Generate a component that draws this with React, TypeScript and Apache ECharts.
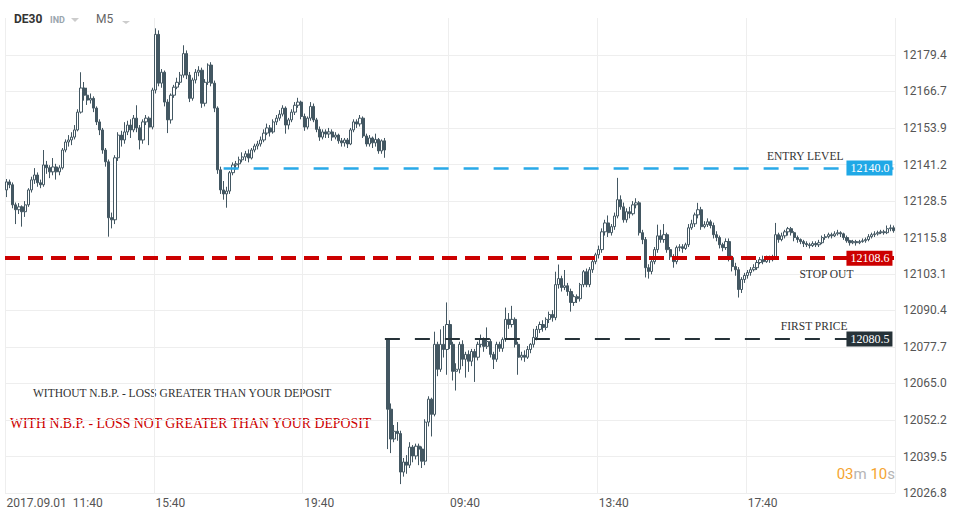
import React, { useEffect, useRef } from "react";
import * as echarts from "echarts";

// ---- data ----
// candles: [open, close, low, high]
const day1Date = "2017.09.01";
const day1Start = "11:40";
const day1Candles: number[][] = [
  [12132.4, 12135.2, 12129.9, 12136.2], [12135.2, 12134.2, 12133.0, 12136.0], [12134.2, 12127.2, 12126.0, 12135.0],
  [12127.2, 12125.5, 12120.5, 12128.0], [12125.5, 12126.5, 12124.0, 12127.8], [12126.5, 12124.8, 12119.6, 12127.0],
  [12124.8, 12127.2, 12123.0, 12128.5], [12127.2, 12132.4, 12126.5, 12133.0], [12132.4, 12135.9, 12131.5, 12137.0],
  [12135.9, 12137.6, 12134.5, 12140.0], [12137.6, 12134.9, 12133.5, 12138.5], [12134.9, 12134.2, 12133.0, 12136.0],
  [12134.2, 12141.1, 12133.5, 12146.3], [12141.1, 12140.1, 12138.0, 12142.5], [12140.1, 12138.7, 12136.5, 12141.0],
  [12138.7, 12140.4, 12137.5, 12143.5], [12140.4, 12138.7, 12136.0, 12141.5], [12138.7, 12140.1, 12137.5, 12141.0],
  [12140.1, 12146.3, 12139.5, 12147.0], [12146.3, 12149.1, 12145.5, 12150.0], [12149.1, 12149.8, 12147.5, 12151.5],
  [12149.8, 12150.8, 12148.0, 12152.5], [12150.8, 12153.3, 12150.0, 12155.0], [12153.3, 12159.5, 12152.8, 12160.5],
  [12159.5, 12167.9, 12159.0, 12173.4], [12167.9, 12165.4, 12163.5, 12170.0], [12165.4, 12163.7, 12162.0, 12168.0],
  [12163.7, 12164.3, 12162.5, 12166.0], [12164.3, 12160.9, 12159.5, 12165.0], [12160.9, 12156.1, 12155.0, 12161.5],
  [12156.1, 12153.3, 12151.5, 12157.0], [12153.3, 12146.3, 12145.0, 12154.0], [12146.3, 12142.2, 12140.5, 12147.0],
  [12142.2, 12122.7, 12116.1, 12143.0], [12122.7, 12122.0, 12119.0, 12124.5], [12122.0, 12143.6, 12120.5, 12144.5],
  [12143.6, 12151.5, 12142.5, 12152.5], [12151.5, 12149.8, 12147.5, 12153.0], [12149.8, 12152.6, 12148.5, 12156.0],
  [12152.6, 12155.0, 12151.5, 12156.5], [12155.0, 12153.3, 12150.5, 12157.0], [12153.3, 12157.4, 12152.5, 12158.5],
  [12157.4, 12154.0, 12152.5, 12161.9], [12154.0, 12149.8, 12146.5, 12155.0], [12149.8, 12156.1, 12148.5, 12157.0],
  [12156.1, 12157.4, 12155.0, 12158.5], [12157.4, 12154.3, 12148.0, 12158.0], [12154.3, 12167.2, 12153.5, 12168.0],
  [12167.2, 12186.6, 12166.0, 12188.7], [12186.6, 12169.6, 12168.5, 12188.0], [12169.6, 12173.4, 12168.0, 12174.5],
  [12173.4, 12163.0, 12161.5, 12174.0], [12163.0, 12156.8, 12152.2, 12164.0], [12156.8, 12165.4, 12155.5, 12166.0],
  [12165.4, 12168.2, 12164.5, 12169.0], [12168.2, 12169.9, 12167.5, 12171.5], [12169.9, 12172.4, 12169.0, 12173.5],
  [12172.4, 12179.9, 12171.5, 12182.8], [12179.9, 12172.4, 12171.0, 12181.0], [12172.4, 12164.3, 12163.0, 12173.5],
  [12164.3, 12170.7, 12163.5, 12171.5], [12170.7, 12173.4, 12169.5, 12174.5], [12173.4, 12174.1, 12172.0, 12175.5],
  [12174.1, 12162.6, 12161.0, 12175.0], [12162.6, 12169.9, 12161.5, 12171.0], [12169.9, 12175.9, 12169.0, 12176.5],
  [12175.9, 12169.6, 12168.5, 12176.9], [12169.6, 12160.9, 12159.5, 12170.5], [12160.9, 12139.4, 12138.0, 12161.5],
  [12139.4, 12132.4, 12131.0, 12140.5], [12132.4, 12131.0, 12129.0, 12135.5], [12131.0, 12132.0, 12126.2, 12133.5],
  [12132.0, 12138.4, 12131.0, 12139.0], [12138.4, 12141.1, 12137.5, 12142.0], [12141.1, 12141.5, 12139.5, 12142.5],
  [12141.5, 12142.9, 12140.0, 12144.0], [12142.9, 12143.9, 12142.0, 12145.5], [12143.9, 12145.0, 12142.5, 12146.0],
  [12145.0, 12143.5, 12142.0, 12146.5], [12143.5, 12146.3, 12143.0, 12147.0], [12146.3, 12147.7, 12145.5, 12148.5],
  [12147.7, 12148.4, 12146.5, 12149.5], [12148.4, 12149.8, 12147.5, 12151.0], [12149.8, 12152.2, 12149.0, 12153.5],
  [12152.2, 12154.0, 12151.5, 12155.5], [12154.0, 12152.6, 12151.0, 12155.0], [12152.6, 12156.1, 12152.0, 12157.0],
  [12156.1, 12157.4, 12155.0, 12158.5], [12157.4, 12158.8, 12156.5, 12160.2], [12158.8, 12160.9, 12158.0, 12161.9],
  [12160.9, 12155.0, 12152.0, 12161.5], [12155.0, 12156.8, 12153.5, 12157.5], [12156.8, 12159.5, 12156.0, 12160.5],
  [12159.5, 12161.9, 12158.5, 12163.0], [12161.9, 12163.0, 12161.0, 12164.5], [12163.0, 12158.0, 12157.0, 12163.5],
  [12158.0, 12154.3, 12153.0, 12159.0], [12154.3, 12157.4, 12153.5, 12158.0], [12157.4, 12161.5, 12156.5, 12163.0],
  [12161.5, 12156.8, 12156.0, 12162.5], [12156.8, 12153.5, 12152.5, 12157.5], [12153.5, 12150.8, 12149.5, 12154.5],
  [12150.8, 12152.6, 12150.0, 12153.5], [12152.6, 12151.9, 12150.5, 12153.5], [12151.9, 12152.6, 12150.5, 12154.0],
  [12152.6, 12150.8, 12149.5, 12153.5], [12150.8, 12151.5, 12150.0, 12152.5], [12151.5, 12149.5, 12148.5, 12152.0],
  [12149.5, 12148.8, 12147.5, 12150.5], [12148.8, 12149.8, 12147.5, 12150.5], [12149.8, 12148.4, 12147.0, 12150.5],
  [12148.4, 12153.3, 12148.0, 12154.0], [12153.3, 12156.1, 12152.5, 12157.0], [12156.1, 12155.4, 12154.0, 12157.0],
  [12155.4, 12157.4, 12154.5, 12158.5], [12157.4, 12151.2, 12150.5, 12158.0], [12151.2, 12148.4, 12147.5, 12152.0],
  [12148.4, 12150.5, 12147.5, 12151.5], [12150.5, 12148.8, 12147.0, 12151.0], [12148.8, 12150.0, 12147.5, 12152.0],
  [12150.0, 12146.0, 12145.0, 12150.5], [12146.0, 12149.5, 12145.0, 12150.0], [12149.5, 12146.3, 12143.6, 12150.5],
];

const day2Date = "2017.09.04";
const day2Start = "08:00";
const day2Candles: number[][] = [
  [12080.5, 12056.0, 12042.1, 12080.5], [12056.0, 12045.6, 12040.7, 12058.0], [12045.6, 12048.3, 12044.5, 12050.5],
  [12048.3, 12047.5, 12045.0, 12051.5], [12047.5, 12034.1, 12029.9, 12048.5], [12034.1, 12037.6, 12032.5, 12039.0],
  [12037.6, 12036.5, 12033.5, 12040.0], [12036.5, 12042.8, 12035.5, 12044.5], [12042.8, 12039.7, 12037.5, 12043.5],
  [12039.7, 12043.1, 12038.5, 12044.0], [12043.1, 12042.1, 12036.5, 12044.0], [12042.1, 12037.9, 12035.5, 12043.0],
  [12037.9, 12051.5, 12036.5, 12052.5], [12051.5, 12059.5, 12050.0, 12060.5], [12059.5, 12054.2, 12046.5, 12060.0],
  [12054.2, 12078.6, 12053.5, 12083.0], [12078.6, 12069.9, 12067.5, 12079.5], [12069.9, 12078.6, 12069.0, 12083.8],
  [12078.6, 12076.8, 12074.0, 12085.0], [12076.8, 12085.5, 12068.0, 12093.2], [12085.5, 12078.6, 12077.0, 12087.0],
  [12078.6, 12069.2, 12066.0, 12079.5], [12069.2, 12069.9, 12062.5, 12072.0], [12069.9, 12078.6, 12068.5, 12079.5],
  [12078.6, 12073.4, 12071.0, 12080.0], [12073.4, 12075.1, 12067.0, 12076.0], [12075.1, 12072.7, 12069.0, 12076.5],
  [12072.7, 12076.1, 12071.0, 12077.0], [12076.1, 12074.1, 12065.5, 12077.0], [12074.1, 12078.6, 12073.0, 12079.5],
  [12078.6, 12080.3, 12077.5, 12082.0], [12080.3, 12077.9, 12076.0, 12081.0], [12077.9, 12079.6, 12077.0, 12084.5],
  [12079.6, 12075.1, 12074.0, 12080.5], [12075.1, 12073.4, 12070.0, 12076.0], [12073.4, 12078.6, 12072.5, 12079.5],
  [12078.6, 12077.2, 12076.0, 12079.5], [12077.2, 12080.3, 12076.0, 12081.0], [12080.3, 12087.3, 12079.5, 12091.4],
  [12087.3, 12085.5, 12084.0, 12089.5], [12085.5, 12087.3, 12084.5, 12092.0], [12087.3, 12078.6, 12077.5, 12088.0],
  [12078.6, 12074.1, 12068.0, 12079.5], [12074.1, 12074.8, 12073.0, 12076.0], [12074.8, 12074.1, 12072.5, 12076.5],
  [12074.1, 12076.8, 12073.5, 12078.0], [12076.8, 12078.6, 12075.5, 12079.0], [12078.6, 12081.0, 12077.5, 12084.0],
  [12081.0, 12083.8, 12080.0, 12085.0], [12083.8, 12085.5, 12082.5, 12086.5], [12085.5, 12084.5, 12083.0, 12087.0],
  [12084.5, 12087.3, 12083.5, 12088.0], [12087.3, 12089.0, 12086.0, 12090.0], [12089.0, 12087.9, 12086.5, 12090.5],
  [12087.9, 12099.4, 12087.0, 12103.9], [12099.4, 12101.5, 12098.0, 12106.4], [12101.5, 12098.4, 12097.0, 12102.5],
  [12098.4, 12099.0, 12097.5, 12104.5], [12099.0, 12097.0, 12095.5, 12100.0], [12097.0, 12093.2, 12090.0, 12098.0],
  [12093.2, 12095.2, 12092.0, 12096.0], [12095.2, 12094.5, 12093.0, 12096.0], [12094.5, 12099.4, 12093.5, 12100.0],
  [12099.4, 12103.9, 12098.5, 12104.5], [12103.9, 12099.4, 12098.5, 12105.0], [12099.4, 12104.6, 12098.5, 12105.5],
  [12104.6, 12107.4, 12103.5, 12108.5], [12107.4, 12109.8, 12106.5, 12110.5], [12109.8, 12111.6, 12108.5, 12113.0],
  [12111.6, 12117.8, 12110.5, 12119.0], [12117.8, 12120.9, 12116.5, 12122.0], [12120.9, 12117.5, 12116.0, 12123.5],
  [12117.5, 12119.6, 12116.5, 12120.5], [12119.6, 12123.3, 12118.5, 12124.5], [12123.3, 12129.0, 12122.5, 12136.6],
  [12129.0, 12126.5, 12125.5, 12130.5], [12126.5, 12122.0, 12121.0, 12128.0], [12122.0, 12124.8, 12121.0, 12126.0],
  [12124.8, 12124.1, 12122.5, 12126.5], [12124.1, 12127.2, 12123.5, 12128.5], [12127.2, 12127.9, 12126.0, 12129.5],
  [12127.9, 12117.5, 12116.5, 12128.5], [12117.5, 12115.1, 12113.5, 12118.5], [12115.1, 12105.3, 12101.9, 12116.0],
  [12105.3, 12104.0, 12101.5, 12106.5], [12104.0, 12107.4, 12103.0, 12108.5], [12107.4, 12111.6, 12106.5, 12112.5],
  [12111.6, 12116.4, 12110.5, 12120.3], [12116.4, 12115.1, 12114.0, 12118.5], [12115.1, 12116.8, 12114.0, 12120.5],
  [12116.8, 12111.6, 12110.5, 12117.5], [12111.6, 12109.1, 12108.0, 12112.5], [12109.1, 12107.4, 12105.3, 12110.0],
  [12107.4, 12112.3, 12106.5, 12113.0], [12112.3, 12112.6, 12111.0, 12113.5], [12112.6, 12112.0, 12110.5, 12113.5],
  [12112.0, 12113.3, 12111.5, 12114.0], [12113.3, 12119.2, 12112.5, 12120.5], [12119.2, 12120.6, 12118.5, 12122.0],
  [12120.6, 12123.7, 12119.5, 12124.5], [12123.7, 12125.5, 12122.5, 12127.9], [12125.5, 12119.6, 12118.5, 12126.5],
  [12119.6, 12120.3, 12119.0, 12121.5], [12120.3, 12121.3, 12119.5, 12122.5], [12121.3, 12120.0, 12119.0, 12122.0],
  [12120.0, 12116.8, 12115.5, 12121.0], [12116.8, 12115.8, 12114.5, 12118.0], [12115.8, 12113.3, 12112.0, 12116.5],
  [12113.3, 12112.3, 12111.0, 12114.0], [12112.3, 12114.4, 12111.5, 12115.5], [12114.4, 12108.8, 12107.5, 12115.5],
  [12108.8, 12105.7, 12104.0, 12109.5], [12105.7, 12104.6, 12102.5, 12107.0], [12104.6, 12097.7, 12094.9, 12105.5],
  [12097.7, 12101.2, 12096.5, 12102.0], [12101.2, 12102.6, 12100.0, 12103.5], [12102.6, 12103.6, 12101.5, 12104.5],
  [12103.6, 12104.6, 12102.5, 12105.5], [12104.6, 12105.3, 12104.0, 12106.5], [12105.3, 12107.1, 12104.5, 12108.0],
  [12107.1, 12108.1, 12106.5, 12109.0], [12108.1, 12107.4, 12106.5, 12109.5], [12107.4, 12108.5, 12107.0, 12109.5],
  [12108.5, 12108.1, 12107.0, 12109.5], [12108.1, 12108.8, 12107.5, 12109.8], [12108.8, 12116.8, 12108.0, 12120.9],
  [12116.8, 12115.1, 12114.0, 12117.5], [12115.1, 12116.4, 12114.5, 12117.5], [12116.4, 12117.8, 12115.5, 12118.5],
  [12117.8, 12118.9, 12116.5, 12119.5], [12118.9, 12117.5, 12116.5, 12119.5], [12117.5, 12115.8, 12114.5, 12118.0],
  [12115.8, 12115.1, 12114.0, 12116.5], [12115.1, 12114.4, 12113.5, 12115.5], [12114.4, 12113.7, 12112.5, 12115.0],
  [12113.7, 12113.3, 12112.5, 12114.5], [12113.3, 12113.0, 12112.0, 12114.0], [12113.0, 12113.7, 12112.5, 12114.5],
  [12113.7, 12113.3, 12112.5, 12114.5], [12113.3, 12114.0, 12112.5, 12115.0], [12114.0, 12115.8, 12113.5, 12116.5],
  [12115.8, 12116.1, 12115.0, 12117.0], [12116.1, 12116.8, 12115.5, 12117.5], [12116.8, 12116.4, 12115.5, 12117.5],
  [12116.4, 12117.1, 12116.0, 12118.0], [12117.1, 12117.5, 12116.5, 12118.5], [12117.5, 12117.1, 12116.0, 12118.0],
  [12117.1, 12115.8, 12115.0, 12117.5], [12115.8, 12114.7, 12114.0, 12116.5], [12114.7, 12114.0, 12113.0, 12115.0],
  [12114.0, 12114.4, 12113.5, 12115.0], [12114.4, 12114.0, 12113.0, 12115.0], [12114.0, 12114.4, 12113.5, 12115.0],
  [12114.4, 12114.7, 12114.0, 12115.5], [12114.7, 12115.1, 12114.0, 12115.8], [12115.1, 12116.1, 12114.5, 12117.0],
  [12116.1, 12116.8, 12115.5, 12117.5], [12116.8, 12117.1, 12116.0, 12118.0], [12117.1, 12117.5, 12116.5, 12118.2],
  [12117.5, 12117.8, 12117.0, 12118.5], [12117.8, 12117.5, 12116.8, 12118.5], [12117.5, 12118.9, 12117.0, 12120.0],
  [12118.9, 12119.2, 12118.0, 12120.3], [12119.2, 12118.2, 12117.5, 12120.0],
];

const yTickValues = [
  12026.8, 12039.5, 12052.2, 12065.0, 12077.7, 12090.4, 12103.1,
  12115.8, 12128.5, 12141.2, 12153.9, 12166.7, 12179.4,
];
const yMin = 12026.8;
const yMax = 12192.3;

const xTickCategories = [
  "2017.09.01 11:40", "2017.09.01 15:40", "2017.09.01 19:40",
  "2017.09.04 09:40", "2017.09.04 13:40", "2017.09.04 17:40",
];

const entryLevel = 12140.0;
const stopOut = 12108.6;
const firstPrice = 12080.5;
const entryStartCategory = "2017.09.01 17:30";
const firstPriceStartCategory = "2017.09.01 21:50";

// ---- helpers ----
function timeSeq(date: string, start: string, count: number): string[] {
  const [h, m] = start.split(":").map(Number);
  const out: string[] = [];
  for (let k = 0; k < count; k++) {
    const t = h * 60 + m + k * 5;
    const hh = String(Math.floor(t / 60)).padStart(2, "0");
    const mm = String(t % 60).padStart(2, "0");
    out.push(`${date} ${hh}:${mm}`);
  }
  return out;
}

const categories = [
  ...timeSeq(day1Date, day1Start, day1Candles.length),
  ...timeSeq(day2Date, day2Start, day2Candles.length),
];
const candles = [...day1Candles, ...day2Candles];
const lastIdx = categories.length - 1;

const candleColor = "#435762";
const serif = '"Liberation Serif", "DejaVu Serif", serif';

export default function App() {
  const ref = useRef<HTMLDivElement>(null);

  useEffect(() => {
    if (!ref.current) return;
    const chart = echarts.init(ref.current, undefined, { renderer: "svg" });
    const showTick = (_i: number, v: string) => xTickCategories.includes(v);
    const entryIdx = categories.indexOf(entryStartCategory);
    const fpIdx = categories.indexOf(firstPriceStartCategory);

    const boxLabel = (bg: string, text: string) => ({
      show: true,
      position: "inside",
      align: "right",
      verticalAlign: "middle",
      offset: [-1, 0],
      formatter: text,
      backgroundColor: bg,
      color: "#ffffff",
      fontFamily: serif,
      fontSize: 12,
      padding: [2, 3, 1, 4],
    });
    const noteLabel = (text: string, offset: number[]) => ({
      show: true,
      position: "inside",
      align: "right",
      verticalAlign: "middle",
      offset,
      formatter: text,
      color: "#333333",
      fontFamily: serif,
      fontSize: 11.5,
    });

    chart.setOption({
      animation: false,
      backgroundColor: "#ffffff",
      grid: { left: 5, right: 68, top: 18, bottom: 27, containLabel: false },
      xAxis: {
        type: "category",
        data: categories,
        boundaryGap: true,
        axisLine: { show: false },
        axisTick: { show: false, interval: showTick },
        axisLabel: {
          interval: showTick,
          align: "left",
          margin: 4,
          color: "#555555",
          fontFamily: "Roboto",
          fontSize: 12,
          formatter: (v: string, i: number) =>
            i === 0 ? `${v.slice(0, 10)}  ${v.slice(11)}` : v.slice(11),
        },
        splitLine: { show: true, interval: showTick, lineStyle: { color: "#eeeeee", width: 1 } },
      },
      yAxis: {
        type: "value",
        position: "right",
        min: yMin,
        max: yMax,
        scale: true,
        axisLine: { show: false },
        axisTick: { show: false, customValues: yTickValues },
        axisLabel: {
          customValues: yTickValues,
          margin: 8,
          color: "#555555",
          fontFamily: "Roboto",
          fontSize: 12,
          formatter: (v: number) => v.toFixed(1),
        },
        splitLine: { show: true, lineStyle: { color: "#eeeeee", width: 1 } },
      },
      series: [
        {
          type: "candlestick",
          data: candles,
          barWidth: "88%",
          itemStyle: {
            color: "#ffffff",
            color0: candleColor,
            borderColor: candleColor,
            borderColor0: candleColor,
            borderWidth: 1,
          },
          markLine: {
            silent: true,
            symbol: ["none", "none"],
            label: { show: false },
            data: [
              [
                { coord: [entryIdx, entryLevel], lineStyle: { color: "#29a9e8", width: 2.5, type: [15, 15] } },
                { coord: [lastIdx, entryLevel] },
              ],
              [
                { coord: [fpIdx, firstPrice], lineStyle: { color: "#263238", width: 2, type: [15, 15] } },
                { coord: [lastIdx, firstPrice] },
              ],
              { yAxis: stopOut, lineStyle: { color: "#cc0000", width: 4, type: [15, 8] } },
            ],
          },
          markPoint: {
            silent: true,
            symbol: "rect",
            symbolSize: 1,
            itemStyle: { color: "rgba(0,0,0,0)" },
            data: [
              { coord: [lastIdx, entryLevel], label: boxLabel("#1fa8e6", entryLevel.toFixed(1)) },
              { coord: [lastIdx, stopOut], label: boxLabel("#cc0000", stopOut.toFixed(1)) },
              { coord: [lastIdx, firstPrice], label: boxLabel("#263238", firstPrice.toFixed(1)) },
              { coord: [lastIdx, entryLevel], label: noteLabel("ENTRY LEVEL", [-50, -12]) },
              { coord: [lastIdx, stopOut], label: noteLabel("STOP OUT", [-40, 16]) },
              { coord: [lastIdx, firstPrice], label: noteLabel("FIRST PRICE", [-46, -13]) },
            ],
          },
        },
      ],
      graphic: [
        { type: "text", x: 14, y: 19, style: { text: "DE30", font: "bold 12px Roboto", fill: "#333333", verticalAlign: "middle" } },
        { type: "text", x: 50, y: 20, style: { text: "IND", font: "bold 9px Roboto", fill: "#9aa5ad", verticalAlign: "middle" } },
        { type: "polygon", shape: { points: [[71, 18], [79, 18], [75, 22]] }, style: { fill: "#cccccc" } },
        { type: "text", x: 96, y: 19, style: { text: "M5", font: "12px Roboto", fill: "#666666", verticalAlign: "middle" } },
        { type: "polygon", shape: { points: [[122, 21], [130, 21], [126, 24]] }, style: { fill: "#cccccc" } },
        {
          type: "text", x: 33, y: 393,
          style: { text: "WITHOUT N.B.P. - LOSS GREATER THAN YOUR DEPOSIT", font: `11.5px ${serif}`, fill: "#333333", verticalAlign: "middle" },
        },
        {
          type: "text", x: 10, y: 423,
          style: { text: "WITH N.B.P. - LOSS NOT GREATER THAN YOUR DEPOSIT", font: `13.8px ${serif}`, fill: "#cc0000", verticalAlign: "middle" },
        },
        {
          type: "text", x: 895, y: 474,
          style: {
            text: "{o|03}{g|m} {o|10}{g|s}",
            align: "right",
            verticalAlign: "middle",
            font: "15px Roboto",
            rich: {
              o: { fill: "#f5a430", font: "15px Roboto", color: "#f5a430" },
              g: { fill: "#b5b5b5", font: "15px Roboto", color: "#b5b5b5" },
            },
          },
        },
      ],
    });
    return () => chart.dispose();
  }, []);

  return (
    <div
      ref={ref}
      style={{ position: "fixed", left: 0, top: 0, width: 963, height: 520, background: "#fff" }}
    />
  );
}
